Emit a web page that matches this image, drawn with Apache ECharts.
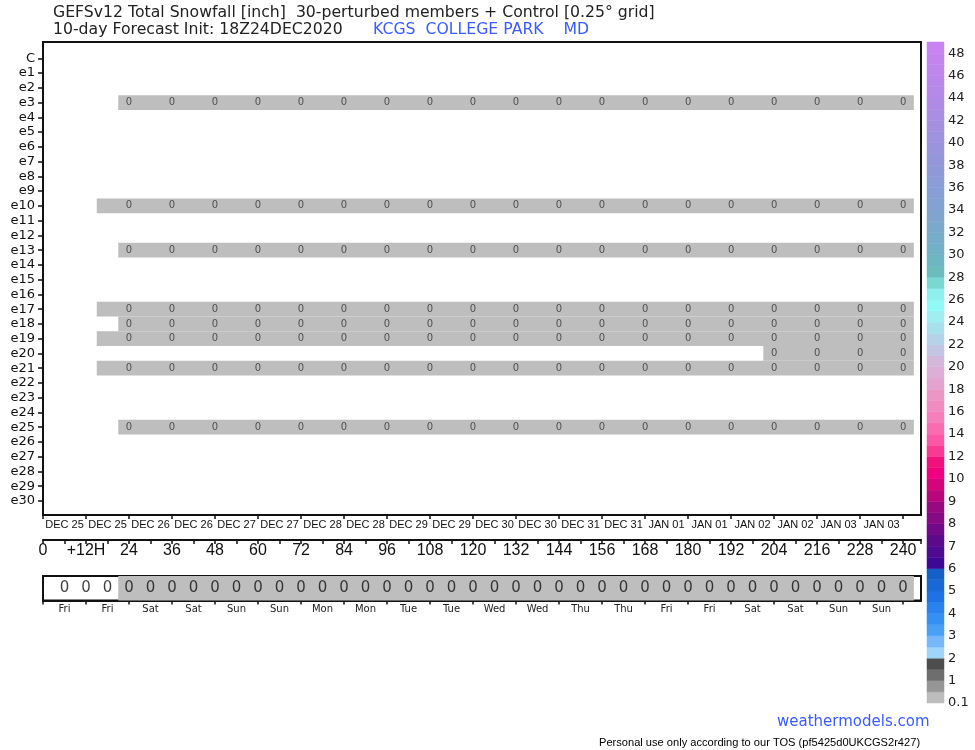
<!DOCTYPE html>
<html>
<head>
<meta charset="utf-8">
<script src="https://cdn.jsdelivr.net/npm/echarts@6/dist/echarts.min.js"></script>
<style>
html,body{margin:0;padding:0;background:#fff;}
#chart{width:975px;height:750px;}
</style>
</head>
<body>
<div id="chart"></div>
<script>
// ---------------- DATA ----------------
const members = ['C','e1','e2','e3','e4','e5','e6','e7','e8','e9','e10','e11','e12','e13','e14','e15','e16','e17','e18','e19','e20','e21','e22','e23','e24','e25','e26','e27','e28','e29','e30'];
const hours6 = [6,12,18,24,30,36,42,48,54,60,66,72,78,84,90,96,102,108,114,120,126,132,138,144,150,156,162,168,174,180,186,192,198,204,210,216,222,228,234,240];
const hourTicks = [0,12,24,36,48,60,72,84,96,108,120,132,144,156,168,180,192,204,216,228,240];
const hourLabels = ['0','+12H','24','36','48','60','72','84','96','108','120','132','144','156','168','180','192','204','216','228','240'];
const dateHours = [6,18,30,42,54,66,78,90,102,114,126,138,150,162,174,186,198,210,222,234];
const dateLabels = ['DEC 25','DEC 25','DEC 26','DEC 26','DEC 27','DEC 27','DEC 28','DEC 28','DEC 29','DEC 29','DEC 30','DEC 30','DEC 31','DEC 31','JAN 01','JAN 01','JAN 02','JAN 02','JAN 03','JAN 03'];
const dayLabels = ['Fri','Fri','Sat','Sat','Sun','Sun','Mon','Mon','Tue','Tue','Wed','Wed','Thu','Thu','Fri','Fri','Sat','Sat','Sun','Sun'];

// members with snowfall cells: first forecast hour with a cell, value shown in cells
const snowRows = ['e3','e10','e13','e17','e18','e19','e20','e21','e25'];
const snowFirstHour = [24,18,24,18,24,18,204,18,24];
const snowValue = [0,0,0,0,0,0,0,0,0];

// ensemble mean strip (every 6 h)
const meanSnow = [0,0,0,0,0,0,0,0,0,0,0,0,0,0,0,0,0,0,0,0,0,0,0,0,0,0,0,0,0,0,0,0,0,0,0,0,0,0,0,0];
const meanShadeFrom = 24;

// colour bar tick labels (bottom to top)
const colorbarLabels = ['0.1','1','2','3','4','5','6','7','8','9','10','12','14','16','18','20','22','24','26','28','30','32','34','36','38','40','42','44','46','48'];

// ---------------- STYLES ----------------
const colorbarColors = ['#bdbdbd','#969696','#6e6e6e','#4d4d4d','#9fd4fb','#78b8f8','#4aa0f5','#3590f4','#2a82ee','#1f72e6','#1a68d6','#1460c8','#3e0896','#4e0a90','#5c0a8a','#700a88','#860a84','#980880','#b8067c','#d4047a','#f00080','#f2107f','#f83a94','#fa58a6','#fa6cb0','#f47fba','#f08cc0','#ec96c6','#e4a2d0','#dcaed8','#d4b8dc','#c2c6e2','#b4d2e8','#a8e0ec','#a0eef0','#92faf6','#8ef0ec','#7ad8d2','#6cbcbe','#6fb6c3','#73b1c6','#77adc9','#7ba9cc','#7fa5cf','#83a2d2','#879fd4','#8b9cd6','#9099d8','#9596da','#9a94dc','#9f92de','#a590e0','#aa8ee3','#b08be5','#b589e8','#ba87ea','#bf86ec','#c484ee','#c982f1'];
const CELL = '#bebebe';
const BLUE = '#3b5bff';
const HALF = 3; // half-width (hours) of a 6-h cell

// ---------------- BUILD ----------------
const bandData = snowRows.map((m, i) => [members.indexOf(m), snowFirstHour[i] - HALF, 240 + HALF]);
const cellText = [];
snowRows.forEach((m, i) => {
  hours6.forEach(h => {
    if (h >= snowFirstHour[i] && h % 12 === 0) cellText.push([h, members.indexOf(m), snowValue[i]]);
  });
});
const meanText = hours6.map((h, i) => [h, 0.5, meanSnow[i]]);
const meanBand = [[meanShadeFrom - HALF, 240 + HALF]];
const cbData = colorbarColors.map((c, i) => [i]);
const memberIdx = members.map((m, i) => i);
const cbTickPos = colorbarLabels.map((l, i) => i * 2);

const AX = '#111';
const TFONT = {fontFamily: 'DejaVu Sans', fontSize: 15.7, fontWeight: 'normal', color: '#222', lineHeight: 18};
const chart = echarts.init(document.getElementById('chart'), null, {renderer: 'canvas'});
const option = {
  animation: false,
  backgroundColor: '#fff',
  title: [
    {text: 'GEFSv12 Total Snowfall [inch]  30-perturbed members + Control [0.25° grid]', left: 53, top: 4, padding: 0, textStyle: TFONT},
    {text: '10-day Forecast Init: 18Z24DEC2020', left: 53, top: 21, padding: 0, textStyle: TFONT},
    {text: 'KCGS  COLLEGE PARK    MD', left: 373, top: 21, padding: 0, textStyle: Object.assign({}, TFONT, {color: BLUE})},
    {text: 'weathermodels.com', left: 777, top: 713, padding: 0,
     textStyle: {fontFamily: 'DejaVu Sans', fontSize: 15, fontWeight: 'normal', color: BLUE, lineHeight: 18}},
    {text: 'Personal use only according to our TOS (pf5425d0UKCGS2r427)', left: 599, top: 736, padding: 0,
     textStyle: {fontFamily: 'Liberation Sans', fontSize: 11.1, fontWeight: 'normal', color: '#000', lineHeight: 14}}
  ],
  grid: [
    {left: 43, top: 42, width: 878, height: 473, show: true, borderColor: AX, borderWidth: 2, backgroundColor: 'transparent'},
    {left: 43, top: 539, width: 878, height: 1, show: false},
    {left: 43, top: 576, width: 878, height: 24.5, show: true, borderColor: AX, borderWidth: 2, backgroundColor: 'transparent'},
    {left: 927, top: 42, width: 17, height: 661, show: false}
  ],
  xAxis: [
    {gridIndex: 0, type: 'value', min: 0, max: 245, position: 'bottom',
     axisLine: {show: true, onZero: false, lineStyle: {color: AX, width: 2}},
     axisTick: {show: true, length: 4, lineStyle: {color: AX, width: 1.5}, customValues: hourTicks},
     axisLabel: {show: true, customValues: dateHours, margin: 4, fontFamily: 'Liberation Sans', fontSize: 11, color: '#111',
       formatter: v => dateLabels[dateHours.indexOf(v)] || ''},
     splitLine: {show: false}},
    {gridIndex: 1, type: 'value', min: 0, max: 245, position: 'bottom',
     axisLine: {show: true, onZero: false, lineStyle: {color: AX, width: 2}},
     axisTick: {show: true, length: 4, lineStyle: {color: AX, width: 1.5}, customValues: [0].concat(hours6, [245])},
     axisLabel: {show: true, customValues: hourTicks, margin: 3, fontFamily: 'Liberation Sans', fontSize: 16, color: '#111',
       formatter: v => hourLabels[hourTicks.indexOf(v)] || ''},
     splitLine: {show: false}},
    {gridIndex: 2, type: 'value', min: 0, max: 245, position: 'bottom',
     axisLine: {show: true, onZero: false, lineStyle: {color: AX, width: 2}},
     axisTick: {show: true, length: 4, lineStyle: {color: AX, width: 1.5}, customValues: hourTicks},
     axisLabel: {show: true, customValues: dateHours, margin: 4, fontFamily: 'DejaVu Sans', fontSize: 10, color: '#222',
       formatter: v => dayLabels[dateHours.indexOf(v)] || ''},
     splitLine: {show: false}},
    {gridIndex: 3, type: 'value', min: 0, max: 1, show: false}
  ],
  yAxis: [
    {gridIndex: 0, type: 'value', min: -1.105, max: 30.95, inverse: true,
     axisLine: {show: true, onZero: false, lineStyle: {color: AX, width: 2}},
     axisTick: {show: true, length: 5, lineStyle: {color: AX, width: 1.5}, customValues: memberIdx},
     axisLabel: {show: true, customValues: memberIdx, margin: 8, fontFamily: 'DejaVu Sans', fontSize: 13, color: '#111',
       formatter: v => members[v] || ''},
     splitLine: {show: false}},
    {gridIndex: 1, type: 'value', min: 0, max: 1, show: false},
    {gridIndex: 2, type: 'value', min: 0, max: 1, show: false},
    {gridIndex: 3, type: 'value', min: 0, max: 59, position: 'right',
     axisLine: {show: false}, axisTick: {show: false},
     axisLabel: {show: true, customValues: cbTickPos, margin: 4, fontFamily: 'DejaVu Sans', fontSize: 13, color: '#222',
       formatter: v => colorbarLabels[cbTickPos.indexOf(v)] || ''},
     splitLine: {show: false}}
  ],
  series: [
    {type: 'custom', xAxisIndex: 0, yAxisIndex: 0, data: bandData, encode: {x: [1, 2], y: 0}, z: 1,
     renderItem: (params, api) => {
       const r = api.value(0), a = api.value(1), b = api.value(2);
       const p0 = api.coord([a, r - 0.5]), p1 = api.coord([b, r + 0.5]);
       return {type: 'rect', shape: {x: p0[0], y: Math.min(p0[1], p1[1]), width: p1[0] - p0[0], height: Math.abs(p1[1] - p0[1])},
               style: {fill: CELL}};
     }},
    {type: 'scatter', xAxisIndex: 0, yAxisIndex: 0, data: cellText, symbolSize: 0, z: 3,
     label: {show: true, position: 'inside', formatter: p => String(p.value[2]), fontFamily: 'DejaVu Sans', fontSize: 10, color: '#333'}},
    {type: 'custom', xAxisIndex: 2, yAxisIndex: 2, data: meanBand, encode: {x: [0, 1]}, z: 1,
     renderItem: (params, api) => {
       const a = api.value(0), b = api.value(1);
       const p0 = api.coord([a, 1]), p1 = api.coord([b, 0]);
       return {type: 'rect', shape: {x: p0[0], y: p0[1], width: p1[0] - p0[0], height: p1[1] - p0[1]}, style: {fill: CELL}};
     }},
    {type: 'scatter', xAxisIndex: 2, yAxisIndex: 2, data: meanText, symbolSize: 0, z: 3,
     label: {show: true, position: 'inside', formatter: p => String(p.value[2]), fontFamily: 'DejaVu Sans', fontSize: 15, color: '#111'}},
    {type: 'custom', xAxisIndex: 3, yAxisIndex: 3, data: cbData, encode: {y: 0}, z: 1,
     renderItem: (params, api) => {
       const i = api.value(0);
       const p0 = api.coord([0, i + 1]), p1 = api.coord([1, i]);
       const c = colorbarColors[i];
       return {type: 'rect', shape: {x: p0[0], y: p0[1], width: p1[0] - p0[0], height: p1[1] - p0[1]},
               style: {fill: c, stroke: c, lineWidth: 0.5}};
     }}
  ]
};
chart.setOption(option);
</script>
</body>
</html>
